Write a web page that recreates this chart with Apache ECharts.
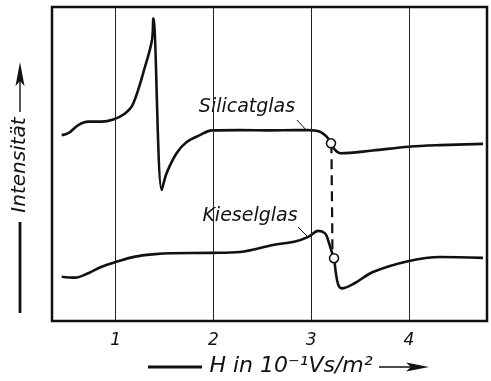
<!DOCTYPE html>
<html><head><meta charset="utf-8">
<script src="https://cdn.jsdelivr.net/npm/echarts@6/dist/echarts.min.js"></script>
<style>html,body{margin:0;padding:0;background:#fff}#c{width:491px;height:381px}</style>
</head><body><div id="c"></div>
<script>
// x: H in 10^-1 Vs/m^2, y: intensity (arbitrary units)
const xTicks = [1, 2, 3, 4];
const silicatX = [0.449,0.517,0.619,0.721,0.858,0.977,1.097,1.179,1.301,1.373,1.386,1.472,1.523,1.626,1.728,1.864,1.987,2.273,2.58,2.836,2.969,3.092,3.16,3.204,3.245,3.30,3.63,4.0,4.32,4.76];
const silicatY = [59.2,59.8,62.4,63.5,63.5,64.2,66.1,69.1,80.9,89.5,96.4,41.7,47.1,53.5,57.0,59.2,60.7,60.8,60.7,60.8,60.8,60.3,58.7,56.6,54.5,53.4,54.3,55.5,56.0,56.4];
const silicatCorners = [10, 11]; // sharp peak and trough of the resonance
const kieselX = [0.449,0.585,0.721,0.858,0.994,1.199,1.404,1.575,1.987,2.273,2.611,2.836,2.972,3.074,3.143,3.174,3.211,3.235,3.252,3.279,3.314,3.45,3.634,4.002,4.319,4.759];
const kieselY = [14.1,13.8,15.2,17.3,18.7,20.5,21.3,21.6,21.7,22.0,24.2,25.3,26.8,28.7,27.9,25.8,22.1,20.0,15.7,11.5,10.4,12.1,15.6,19.1,20.4,20.1];
const markerX = [3.204, 3.235];
const markerY = [56.6, 20.0];
const connectorX = [3.208, 3.22];
const connectorY = [56.6, 20.0];

const zip = (xs, ys, corners = []) => {
  const out = [];
  xs.forEach((x, i) => {
    out.push([x, ys[i]]);
    if (corners.includes(i)) out.push([x, ys[i]]); // repeated point => corner in smoothed path
  });
  return out;
};
const ink = '#111';
const fam = '"DejaVu Sans", sans-serif';

const chart = echarts.init(document.getElementById('c'), null, {renderer: 'canvas'});
chart.setOption({
  backgroundColor: '#fff',
  animation: false,
  grid: {left: 52, top: 7, right: 4, bottom: 60, show: true, borderColor: ink, borderWidth: 2.5, backgroundColor: 'transparent'},
  xAxis: {
    type: 'value', min: 0.35, max: 4.8,
    axisLine: {show: false}, axisTick: {show: false}, splitLine: {show: false},
    axisLabel: {customValues: xTicks, color: ink, fontStyle: 'italic', fontSize: 17, fontFamily: fam, margin: 11}
  },
  yAxis: {type: 'value', min: 0, max: 100, axisLine: {show: false}, axisTick: {show: false}, splitLine: {show: false}, axisLabel: {show: false}},
  series: [
    {type: 'line', data: [], silent: true,
     markLine: {silent: true, symbol: 'none', label: {show: false},
       lineStyle: {type: 'solid', color: '#222', width: 1},
       data: xTicks.map(v => ({xAxis: v}))}},
    {name: 'Silicatglas', type: 'line', data: zip(silicatX, silicatY, silicatCorners), showSymbol: false,
     smooth: 0.35, lineStyle: {color: ink, width: 2.6}, z: 3},
    {name: 'Kieselglas', type: 'line', data: zip(kieselX, kieselY), showSymbol: false,
     smooth: 0.35, lineStyle: {color: ink, width: 2.6}, z: 3},
    {type: 'line', data: zip(connectorX, connectorY), showSymbol: false,
     lineStyle: {color: ink, width: 2.2, type: [10, 6]}, z: 2},
    {type: 'scatter', data: zip(markerX, markerY), symbol: 'circle', symbolSize: 9,
     itemStyle: {color: '#fff', borderColor: ink, borderWidth: 1.6, opacity: 1}, z: 5}
  ],
  graphic: [
    {type: 'text', x: 247, y: 107, style: {text: 'Silicatglas', font: 'italic 19px ' + fam, fill: ink, align: 'center', verticalAlign: 'middle'}},
    {type: 'line', shape: {x1: 297, y1: 120, x2: 307, y2: 131}, style: {stroke: ink, lineWidth: 1}},
    {type: 'text', x: 250, y: 216, style: {text: 'Kieselglas', font: 'italic 19px ' + fam, fill: ink, align: 'center', verticalAlign: 'middle'}},
    {type: 'line', shape: {x1: 298, y1: 227, x2: 307, y2: 236}, style: {stroke: ink, lineWidth: 1}},
    // y-axis title
    {type: 'text', x: 20, y: 165, rotation: Math.PI / 2, style: {text: 'Intensität', font: 'italic 20px ' + fam, fill: ink, align: 'center', verticalAlign: 'middle'}},
    {type: 'line', shape: {x1: 20, y1: 313, x2: 20, y2: 222}, style: {stroke: ink, lineWidth: 2.8}},
    {type: 'line', shape: {x1: 20, y1: 112, x2: 20, y2: 80}, style: {stroke: ink, lineWidth: 1.4}},
    {type: 'polygon', shape: {points: [[20, 62], [24.5, 86], [20, 81], [15.5, 86]]}, style: {fill: ink}},
    // x-axis title
    {type: 'line', shape: {x1: 148, y1: 367, x2: 202, y2: 367}, style: {stroke: ink, lineWidth: 2.8}},
    {type: 'text', x: 291, y: 366, style: {text: 'H in 10⁻¹Vs/m²', font: 'italic 22px ' + fam, fill: ink, align: 'center', verticalAlign: 'middle'}},
    {type: 'line', shape: {x1: 379, y1: 367, x2: 412, y2: 367}, style: {stroke: ink, lineWidth: 1.4}},
    {type: 'polygon', shape: {points: [[429, 367], [406, 362.5], [411, 367], [406, 371.5]]}, style: {fill: ink}}
  ]
});
</script></body></html>
